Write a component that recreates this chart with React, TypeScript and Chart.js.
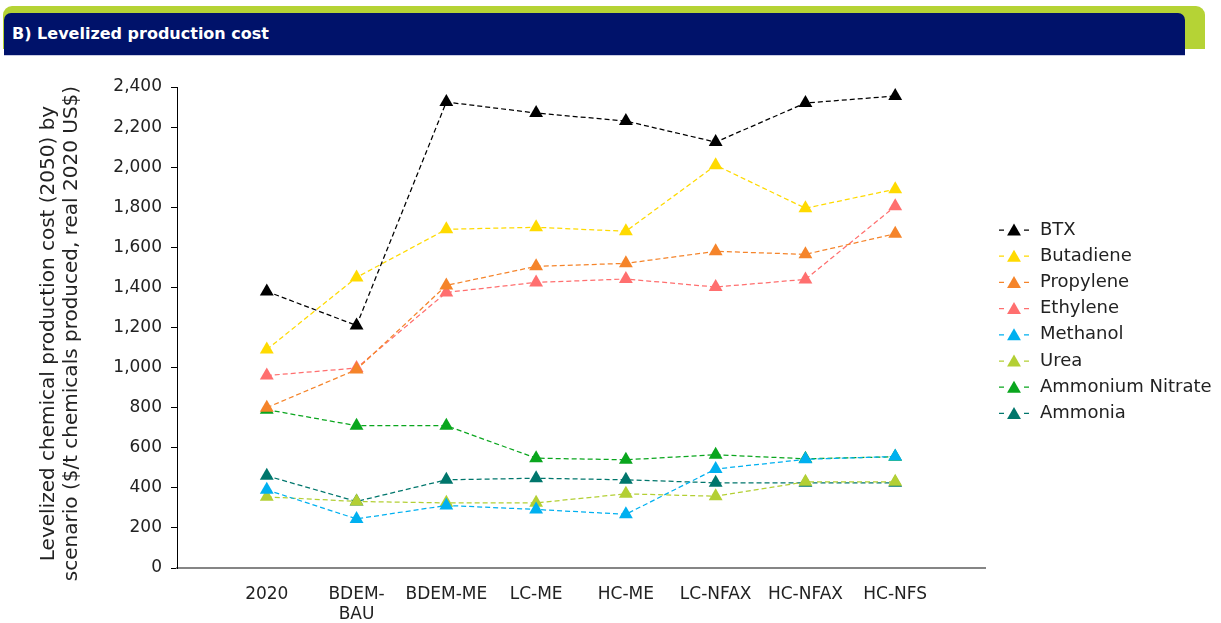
import React, { useEffect, useRef } from "react";
import { Chart, registerables } from "chart.js";

Chart.register(...registerables);

const categories: (string | string[])[] = ["2020", ["BDEM-", "BAU"], "BDEM-ME", "LC-ME", "HC-ME", "LC-NFAX", "HC-NFAX", "HC-NFS"];

const seriesNames = ["BTX", "Butadiene", "Propylene", "Ethylene", "Methanol", "Urea", "Ammonium Nitrate", "Ammonia"];
const seriesColors = ["#000000", "#FFDA00", "#F5842A", "#FF6F6F", "#00B0F0", "#B3CF34", "#0AA61E", "#00766C"];

const btx = [1380, 1210, 2325, 2270, 2230, 2125, 2320, 2355];
const butadiene = [1090, 1450, 1690, 1700, 1680, 2010, 1795, 1890];
const propylene = [800, 990, 1410, 1505, 1520, 1580, 1565, 1668];
const ethylene = [960, 998, 1375, 1425, 1442, 1402, 1440, 1805];
const methanol = [390, 245, 312, 292, 268, 494, 542, 556];
const urea = [355, 332, 325, 325, 370, 358, 430, 430];
const ammoniumNitrate = [790, 710, 710, 548, 540, 565, 545, 555];
const ammonia = [460, 332, 440, 448, 440, 425, 425, 425];

const seriesValues = [btx, butadiene, propylene, ethylene, methanol, urea, ammoniumNitrate, ammonia];

const yTicks = [0, 200, 400, 600, 800, 1000, 1200, 1400, 1600, 1800, 2000, 2200, 2400];

const yTitleLines = ["Levelized chemical production cost (2050) by", "scenario ($/t chemicals produced, real 2020 US$)"];
const headerTitle = "B) Levelized production cost";

const FONT = "'DejaVu Sans', sans-serif";
const TEXT_COLOR = "#222222";

function triangle(ctx: CanvasRenderingContext2D, x: number, y: number, r: number, color: string) {
  ctx.beginPath();
  for (let k = 0; k < 3; k++) {
    const a = (k * 2 * Math.PI) / 3;
    const px = x + Math.sin(a) * r;
    const py = y - Math.cos(a) * r;
    if (k === 0) ctx.moveTo(px, py);
    else ctx.lineTo(px, py);
  }
  ctx.closePath();
  ctx.fillStyle = color;
  ctx.fill();
}

const overlayPlugin = {
  id: "overlay",
  afterDraw(chart: any) {
    const ctx: CanvasRenderingContext2D = chart.ctx;
    const area = chart.chartArea;
    ctx.save();
    // y title
    ctx.fillStyle = TEXT_COLOR;
    ctx.font = `20px ${FONT}`;
    ctx.textAlign = "center";
    ctx.textBaseline = "middle";
    const cy = (area.top + area.bottom) / 2 + 6;
    const xs = [49, 72];
    yTitleLines.forEach((line, i) => {
      ctx.save();
      ctx.translate(xs[i], cy);
      ctx.rotate(-Math.PI / 2);
      ctx.fillText(line, 0, 0);
      ctx.restore();
    });
    // legend
    ctx.font = `18px ${FONT}`;
    ctx.textAlign = "left";
    chart.data.datasets.forEach((ds: any, i: number) => {
      const y = 229 + i * 26.2;
      ctx.strokeStyle = ds.borderColor;
      ctx.lineWidth = 1.25;
      ctx.beginPath();
      ctx.moveTo(999, y + 1);
      ctx.lineTo(1004, y + 1);
      ctx.moveTo(1024, y + 1);
      ctx.lineTo(1029, y + 1);
      ctx.stroke();
      triangle(ctx, 1014, y + 2.5, 8, ds.pointBackgroundColor);
      ctx.fillStyle = TEXT_COLOR;
      ctx.fillText(ds.label, 1040, y + 1);
    });
    ctx.restore();
  },
};

export default function App() {
  const canvasRef = useRef<HTMLCanvasElement | null>(null);

  useEffect(() => {
    document.body.style.margin = "0";
    const canvas = canvasRef.current!;
    const chart = new Chart(canvas, {
      type: "line",
      data: {
        datasets: seriesNames.map((name, i) => ({
          label: name,
          data: seriesValues[i].map((v, j) => ({ x: j, y: v })),
          borderColor: seriesColors[i],
          backgroundColor: seriesColors[i],
          pointBackgroundColor: seriesColors[i],
          pointBorderColor: seriesColors[i],
          pointBorderWidth: 0,
          pointStyle: "triangle",
          pointRadius: 8,
          borderWidth: 1.25,
          borderDash: [5, 3],
          fill: false,
          tension: 0,
        })),
      },
      options: {
        animation: false,
        responsive: false,
        maintainAspectRatio: false,
        layout: { padding: { top: 87, right: 236, bottom: 0, left: 0 } },
        plugins: { legend: { display: false }, tooltip: { enabled: false }, title: { display: false } },
        scales: {
          x: {
            type: "linear",
            min: -1,
            max: 8,
            afterFit: (s: any) => {
              s.height = 55;
            },
            afterBuildTicks: (s: any) => {
              s.ticks = [-1, 0, 1, 2, 3, 4, 5, 6, 7, 8].map((v) => ({ value: v }));
            },
            grid: { display: false },
            border: { display: true, color: "#858585", width: 2 },
            ticks: {
              autoSkip: false,
              maxRotation: 0,
              padding: 8,
              color: TEXT_COLOR,
              font: { family: FONT, size: 17, lineHeight: 1.2 },
              callback: (v: any) => {
                const i = Math.round(Number(v));
                return i >= 0 && i < categories.length ? (categories[i] as any) : "";
              },
            },
          },
          y: {
            min: 0,
            max: 2400,
            afterFit: (s: any) => {
              s.width = 177;
            },
            afterBuildTicks: (s: any) => {
              s.ticks = yTicks.map((v) => ({ value: v }));
            },
            grid: { display: true, drawOnChartArea: false, drawTicks: true, tickLength: 6, color: "#000000", lineWidth: 1 },
            border: { display: true, color: "#000000", width: 1 },
            ticks: {
              padding: 9,
              color: TEXT_COLOR,
              font: { family: FONT, size: 17 },
              callback: (v: any) => Number(v).toLocaleString("en-US"),
            },
          },
        },
      },
      plugins: [overlayPlugin],
    } as any);
    return () => chart.destroy();
  }, []);

  return (
    <div style={{ position: "fixed", left: 0, top: 0, width: 1221, height: 623, background: "#ffffff", overflow: "hidden" }}>
      <canvas ref={canvasRef} width={1221} height={623} style={{ position: "absolute", left: 0, top: 0, width: 1221, height: 623 }} />
      <div style={{ position: "absolute", left: 3, top: 6, width: 1202, height: 43, background: "#B5D335", borderRadius: "9px 9px 0 0" }} />
      <div
        style={{
          position: "absolute",
          left: 4,
          top: 13,
          width: 1181,
          height: 43,
          background: "#00126A",
          borderRadius: "7px 7px 0 0",
          borderBottom: "1px solid #C9CBE3",
          boxSizing: "border-box",
        }}
      >
        <span
          style={{
            position: "absolute",
            left: 8,
            top: 11,
            color: "#ffffff",
            fontFamily: FONT,
            fontWeight: "bold",
            fontSize: 16,
            lineHeight: "20px",
            whiteSpace: "nowrap",
          }}
        >
          {headerTitle}
        </span>
      </div>
    </div>
  );
}
